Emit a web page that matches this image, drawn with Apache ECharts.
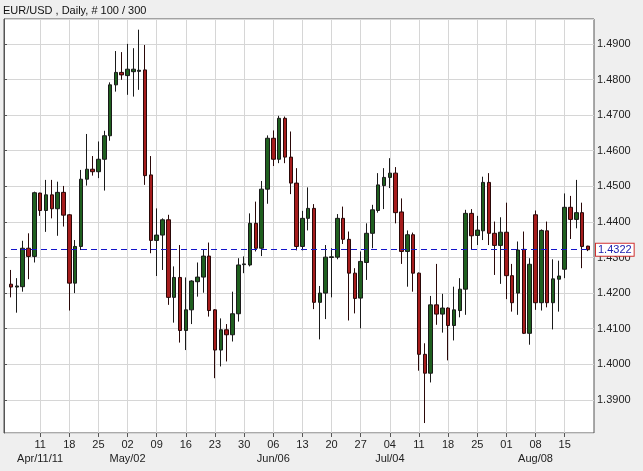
<!DOCTYPE html>
<html><head><meta charset="utf-8">
<script src="https://cdn.jsdelivr.net/npm/echarts@6/dist/echarts.min.js"></script>
<style>html,body{margin:0;padding:0;background:#efefef}#c{width:643px;height:471px}</style>
</head><body><div id="c"></div>
<script>
const titleText = 'EUR/USD , Daily, # 100 / 300';
const firstDay = '2011-04-04';
const barCount = 100;
const opens = [1.4225,1.4217,1.4218,1.4326,1.4303,1.4481,1.4432,1.4476,1.4437,1.4483,
  1.4420,1.4228,1.4331,1.4520,1.4548,1.4541,1.4576,1.4642,1.4785,1.4820,
  1.4811,1.4822,1.4823,1.4827,1.4532,1.4348,1.4363,1.4406,1.4188,1.4244,
  1.4095,1.4153,1.4232,1.4245,1.4304,1.4153,1.4040,1.4097,1.4083,1.4142,
  1.4280,1.4279,1.4396,1.4326,1.4492,1.4635,1.4576,1.4691,1.4582,1.4509,
  1.4331,1.4410,1.4438,1.4174,1.4200,1.4300,1.4301,1.4410,1.4351,1.4256,
  1.4186,1.4286,1.4368,1.4432,1.4502,1.4525,1.4537,1.4428,1.4317,1.4364,
  1.4256,1.4028,1.3975,1.4167,1.4141,1.4158,1.4109,1.4151,1.4211,1.4424,
  1.4362,1.4375,1.4511,1.4368,1.4334,1.4371,1.4249,1.4200,1.4323,1.4087,
  1.4420,1.4173,1.4375,1.4173,1.4239,1.4267,1.4441,1.4407,1.4426,1.4332];
const closes = [1.4217,1.4220,1.4326,1.4303,1.4482,1.4432,1.4476,1.4437,1.4483,1.4419,
  1.4228,1.4331,1.4520,1.4548,1.4541,1.4576,1.4642,1.4785,1.4820,1.4813,
  1.4829,1.4829,1.4826,1.4530,1.4348,1.4363,1.4406,1.4188,1.4244,1.4095,
  1.4153,1.4234,1.4245,1.4304,1.4151,1.4040,1.4097,1.4083,1.4142,1.4279,
  1.4282,1.4396,1.4326,1.4492,1.4635,1.4576,1.4691,1.4582,1.4509,1.4331,
  1.4410,1.4438,1.4174,1.4200,1.4301,1.4302,1.4410,1.4351,1.4256,1.4185,
  1.4289,1.4368,1.4434,1.4504,1.4525,1.4537,1.4426,1.4317,1.4364,1.4256,
  1.4028,1.3975,1.4167,1.4141,1.4158,1.4109,1.4153,1.4211,1.4424,1.4361,
  1.4377,1.4511,1.4368,1.4334,1.4371,1.4249,1.4173,1.4321,1.4087,1.4281,
  1.4173,1.4376,1.4173,1.4240,1.4248,1.4441,1.4407,1.4426,1.4331,1.4322];
const lows = [1.4188,1.4145,1.4204,1.4239,1.4286,1.4417,1.4372,1.4410,1.4361,1.4387,
  1.4151,1.4200,1.4321,1.4502,1.4530,1.4523,1.4488,1.4628,1.4766,1.4799,
  1.4757,1.4752,1.4771,1.4504,1.4312,1.4248,1.4265,1.4167,1.4117,1.4061,
  1.4040,1.4113,1.4190,1.4201,1.4134,1.3961,1.3994,1.4008,1.4064,1.4120,
  1.4256,1.4275,1.4317,1.4304,1.4451,1.4557,1.4565,1.4565,1.4478,1.4320,
  1.4320,1.4376,1.4155,1.4070,1.4127,1.4188,1.4295,1.4338,1.4123,1.4143,
  1.4101,1.4237,1.4326,1.4426,1.4436,1.4495,1.4396,1.4282,1.4218,1.4204,
  1.3982,1.3835,1.3949,1.4111,1.4089,1.4011,1.4067,1.4132,1.4139,1.4321,
  1.4335,1.4349,1.4335,1.4251,1.4226,1.4183,1.4148,1.4139,1.4085,1.4055,
  1.4153,1.4151,1.4160,1.4098,1.4148,1.4242,1.4352,1.4382,1.4270,1.4318];
const highs = [1.4265,1.4242,1.4347,1.4368,1.4485,1.4482,1.4518,1.4518,1.4513,1.4501,
  1.4422,1.4349,1.4546,1.4647,1.4585,1.4626,1.4656,1.4792,1.4880,1.4877,
  1.4900,1.4888,1.4940,1.4897,1.4585,1.4438,1.4410,1.4420,1.4275,1.4335,
  1.4244,1.4236,1.4286,1.4323,1.4342,1.4155,1.4129,1.4113,1.4204,1.4298,
  1.4303,1.4424,1.4457,1.4515,1.4643,1.4657,1.4698,1.4696,1.4654,1.4551,
  1.4431,1.4497,1.4450,1.4220,1.4335,1.4326,1.4422,1.4443,1.4373,1.4270,
  1.4317,1.4396,1.4448,1.4537,1.4551,1.4579,1.4554,1.4466,1.4376,1.4370,
  1.4258,1.4059,1.4192,1.4282,1.4198,1.4160,1.4218,1.4242,1.4434,1.4436,
  1.4417,1.4527,1.4537,1.4401,1.4413,1.4454,1.4282,1.4345,1.4373,1.4298,
  1.4432,1.4379,1.4401,1.4295,1.4291,1.4480,1.4473,1.4518,1.4454,1.4333];
const lastPrice = 1.4322;
const monthLabels = {5:'Apr/11/11', 20:'May/02', 45:'Jun/06', 65:'Jul/04', 90:'Aug/08'};
const yMin = 1.3807, yMax = 1.4970;

// weekday categories
const categories = [];
(function(){
  const d = new Date(firstDay + 'T12:00:00Z');
  while (categories.length < barCount) {
    const wd = d.getUTCDay();
    if (wd !== 0 && wd !== 6) categories.push(d.toISOString().slice(0,10));
    d.setUTCDate(d.getUTCDate() + 1);
  }
})();
const candleData = opens.map((o, i) => [o, closes[i], lows[i], highs[i]]);
const isMonday = (i) => i > 0 && i % 5 === 0;

const chart = echarts.init(document.getElementById('c'), null, {renderer: 'canvas'});
const font = 'Liberation Sans, Arial, sans-serif';
const dashStyle = {color: '#1414c8', type: [6, 4], width: 1, opacity: 1};
chart.setOption({
  animation: false,
  backgroundColor: '#efefef',
  title: {text: titleText, left: 3, top: 5, padding: 0,
    textStyle: {fontSize: 11, fontWeight: 'normal', color: '#111', fontFamily: font}},
  grid: [
    {left: 4, right: 49, top: 19, bottom: 38, show: true, backgroundColor: '#ffffff', borderColor: '#555', borderWidth: 1},
    {left: 11, right: 55, top: 19, bottom: 38}
  ],
  xAxis: [
    {type: 'value', gridIndex: 0, min: 0, max: 1, show: false},
    {type: 'category', gridIndex: 1, data: categories, boundaryGap: false,
      axisLine: {show: false},
      axisTick: {show: true, interval: isMonday, length: 4, lineStyle: {color: '#555'}},
      splitLine: {show: true, interval: isMonday, lineStyle: {color: '#d6d6d6', width: 1}},
      axisLabel: {interval: isMonday, margin: 5, color: '#222', fontSize: 11, fontFamily: font, lineHeight: 14,
        formatter: function (v, i) {
          const day = v.slice(8, 10);
          return monthLabels[i] ? day + '\n' + monthLabels[i] : day;
        }}
    }
  ],
  yAxis: [
    {type: 'value', gridIndex: 0, position: 'right', min: yMin, max: yMax, scale: true,
      splitNumber: 11, minInterval: 0.01, maxInterval: 0.01,
      axisLine: {show: true, lineStyle: {color: '#555'}},
      axisTick: {show: true, length: 3, lineStyle: {color: '#555'}},
      splitLine: {show: true, lineStyle: {color: '#d6d6d6', width: 1}},
      axisLabel: {margin: 3, color: '#222', fontSize: 11, fontFamily: font, showMinLabel: false, showMaxLabel: false,
        formatter: (v) => v.toFixed(4)}
    },
    {type: 'value', gridIndex: 1, min: yMin, max: yMax, scale: true, show: false}
  ],
  series: [{
    type: 'candlestick', xAxisIndex: 1, yAxisIndex: 1, data: candleData, barWidth: 4, clip: false, z: 3,
    itemStyle: {color: '#1f5f1f', color0: '#a51c1c', borderColor: '#1a1a1a', borderColor0: '#2a0808', borderWidth: 1}
  }, {
    type: 'line', name: 'last', xAxisIndex: 1, yAxisIndex: 1, data: [], z: 2,
    color: '#1414c8', lineStyle: {color: '#1414c8'}, itemStyle: {color: '#1414c8'},
    markLine: {
      silent: true, symbol: ['none', 'none'], animation: false, precision: 4,
      lineStyle: dashStyle,
      label: {show: true, position: 'end', distance: 8, formatter: () => lastPrice.toFixed(4),
        color: '#2222b0', backgroundColor: '#fff', borderColor: '#d03030', borderWidth: 1,
        padding: [1, 2, 0, 2], fontSize: 11, fontFamily: font},
      data: [{yAxis: lastPrice}]
    }
  }]
});
</script></body></html>
